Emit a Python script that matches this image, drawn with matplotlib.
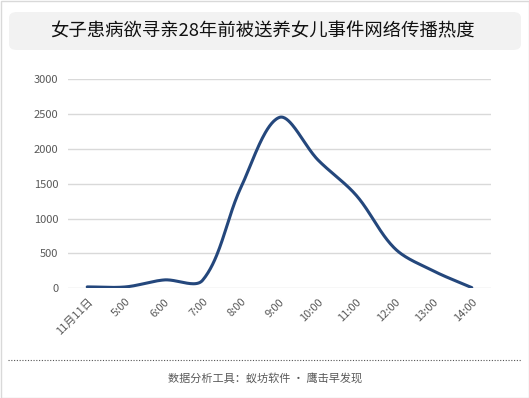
import matplotlib.pyplot as plt
import numpy as np
from matplotlib.patches import FancyBboxPatch
from matplotlib.lines import Line2D

plt.rcParams['font.family'] = ['Noto Sans CJK SC', 'DejaVu Sans']

title = "女子患病欲寻亲28年前被送养女儿事件网络传播热度"
footer = "数据分析工具：蚁坊软件 · 鹰击早发现"
labels = ["11月11日", "5:00", "6:00", "7:00", "8:00", "9:00",
          "10:00", "11:00", "12:00", "13:00", "14:00"]
values = [20, 20, 120, 115, 1450, 2450, 1840, 1330, 570, 250, 10]
yticks = [0, 500, 1000, 1500, 2000, 2500, 3000]


def smooth(px, py, n=40, tension=1 / 3):
    # bezier smoothing like office "smoothed line", done in pixel space
    px = np.concatenate([[px[0]], px, [px[-1]]])
    py = np.concatenate([[py[0]], py, [py[-1]]])
    pts = np.column_stack([px, py])
    t = np.linspace(0, 1, n)[:, None]
    out = []
    for i in range(1, len(pts) - 2):
        p0, p1, p2, p3 = pts[i - 1], pts[i], pts[i + 1], pts[i + 2]
        d01 = np.hypot(*(p1 - p0))
        d12 = np.hypot(*(p2 - p1))
        d23 = np.hypot(*(p3 - p2))
        f1 = tension * d12 / (d01 + d12) if d01 + d12 > 0 else 0
        f2 = tension * d12 / (d12 + d23) if d12 + d23 > 0 else 0
        c1 = p1 + (p2 - p0) * f1
        c2 = p2 - (p3 - p1) * f2
        seg = (1 - t) ** 3 * p1 + 3 * (1 - t) ** 2 * t * c1 + 3 * (1 - t) * t ** 2 * c2 + t ** 3 * p2
        out.append(seg)
    out = np.vstack(out)
    return out[:, 0], out[:, 1]


fig = plt.figure(figsize=(5.29, 3.98), dpi=100)
W, H = 529, 398

# outer border
fig.add_artist(plt.Rectangle((0.5 / W, 0.5 / H), 1 - 1 / W, 1 - 1 / H, transform=fig.transFigure,
                             fill=False, edgecolor="#d9d9d9", linewidth=1))

# title box
box = FancyBboxPatch((9 / W, (H - 50) / H), 512 / W, 38 / H,
                     boxstyle="round,pad=0,rounding_size=0.015", transform=fig.transFigure,
                     facecolor="#f2f2f2", edgecolor="none")
fig.add_artist(box)
fig.text(262 / W, (H - 31) / H, title, ha="center", va="center", fontsize=13.2, color="#111111")

ax = fig.add_axes([68 / W, (H - 288.3) / H, 423 / W, 209.3 / H])
ax.set_xlim(-0.5, len(values) - 0.5)
ax.set_ylim(0, 3000)
x = np.arange(len(values))

# smooth in display pixels so the curve shape follows the drawn aspect
disp = ax.transData.transform(np.column_stack([x, values]))
sx, sy = smooth(disp[:, 0], disp[:, 1])
data = ax.transData.inverted().transform(np.column_stack([sx, sy]))
ax.plot(data[:, 0], data[:, 1], color="#24477c", linewidth=2.2, solid_capstyle="round")

ax.set_yticks(yticks)
ax.set_yticklabels([str(v) for v in yticks], fontsize=8, color="#595959")
ax.set_xticks(x)
ax.set_xticklabels(labels, rotation=45, ha="right", rotation_mode="anchor", fontsize=8, color="#595959")
ax.tick_params(length=0, pad=7)
ax.tick_params(axis="x", pad=6)
ax.grid(axis="y", color="#d9d9d9", linewidth=1)
ax.set_axisbelow(True)
for s in ax.spines.values():
    s.set_visible(False)

# dotted separator and footer
fig.add_artist(Line2D([8 / W, 521 / W], [(H - 360) / H] * 2, transform=fig.transFigure,
                      color="#555555", linestyle=(0, (1, 1.5)), linewidth=0.8))
fig.text(265 / W, (H - 378) / H, footer, ha="center", va="center", fontsize=8, color="#595959")

fig.savefig("out.png", dpi=100)
